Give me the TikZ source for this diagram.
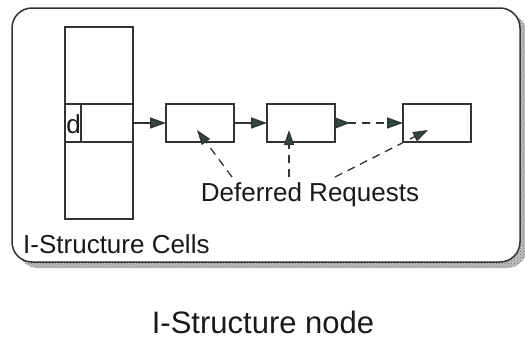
\documentclass[tikz,border=0pt]{standalone}
\usepackage{fontspec}
\setmainfont{Liberation Sans}
\usetikzlibrary{arrows.meta,patterns}
\definecolor{tipc}{HTML}{2E4A3E}
\definecolor{linec}{HTML}{333333}
\tikzset{
  cellbox/.style={draw=linec,line width=1.3pt,minimum width=68pt,minimum height=38pt,inner sep=0pt,outer sep=0pt},
  solidarr/.style={draw=linec,line width=1.4pt,-{Triangle[length=16pt,width=11pt,fill=tipc]}},
  reqarr/.style={draw=linec,line width=1.3pt,dash pattern=on 8pt off 6pt,-{Triangle[length=15pt,width=10pt,fill=tipc]}},
  lbl/.style={font=\fontsize{26pt}{30pt}\selectfont,inner sep=0pt,text=black!90},
}
\begin{document}
\begin{tikzpicture}[x=1pt,y=-1pt]
\useasboundingbox (0,0) rectangle (525,340);
% shadow
\fill[black!25,rounded corners=20pt] (18,14) rectangle (527,268);
\fill[pattern=crosshatch dots,pattern color=black!55,rounded corners=20pt] (18,14) rectangle (527,268);
% outer box
\draw[linec,line width=1.5pt,fill=white,rounded corners=20pt] (12,8) rectangle (520,262);
% column of cells
\node[cellbox,minimum height=192pt] (col) at (99,123) {};
\node[cellbox] (cell) at (99,123) {};
\draw[linec,line width=1.3pt] (81,104) -- (81,142);
\node[lbl,anchor=center] (d) at (73.5,124) {d};
% deferred request boxes
\node[cellbox] (b1) at (200,123) {};
\node[cellbox] (b2) at (301,123) {};
\node[cellbox] (b3) at (437,123) {};
\draw[solidarr] (cell.east) -- (b1.west);
\draw[solidarr] (b1.east) -- (b2.west);
\draw[draw=linec,line width=1.3pt,dash pattern=on 8pt off 6pt,{Triangle[reversed,length=15pt,width=11pt,fill=tipc]}-{Triangle[length=16pt,width=11pt,fill=tipc]}] (b2.east) -- (b3.west);
% labels
\node[lbl,anchor=base] (dr) at (310,201) {Deferred Requests};
\coordinate (s1) at (232,177);
\coordinate (s2) at (289,177);
\coordinate (s3) at (335,177);
\coordinate (t1) at (197,130);
\coordinate (t2) at (289,130);
\coordinate (t3) at (428,130);
\draw[reqarr] (s1) -- (t1);
\draw[reqarr] (s2) -- (t2);
\draw[reqarr] (s3) -- (t3);
\node[lbl,anchor=base west] (cells) at (23,253) {I-Structure Cells};
\node[lbl,anchor=base,font=\fontsize{31pt}{36pt}\selectfont] (title) at (263,333) {I-Structure node};
\end{tikzpicture}
\end{document}
